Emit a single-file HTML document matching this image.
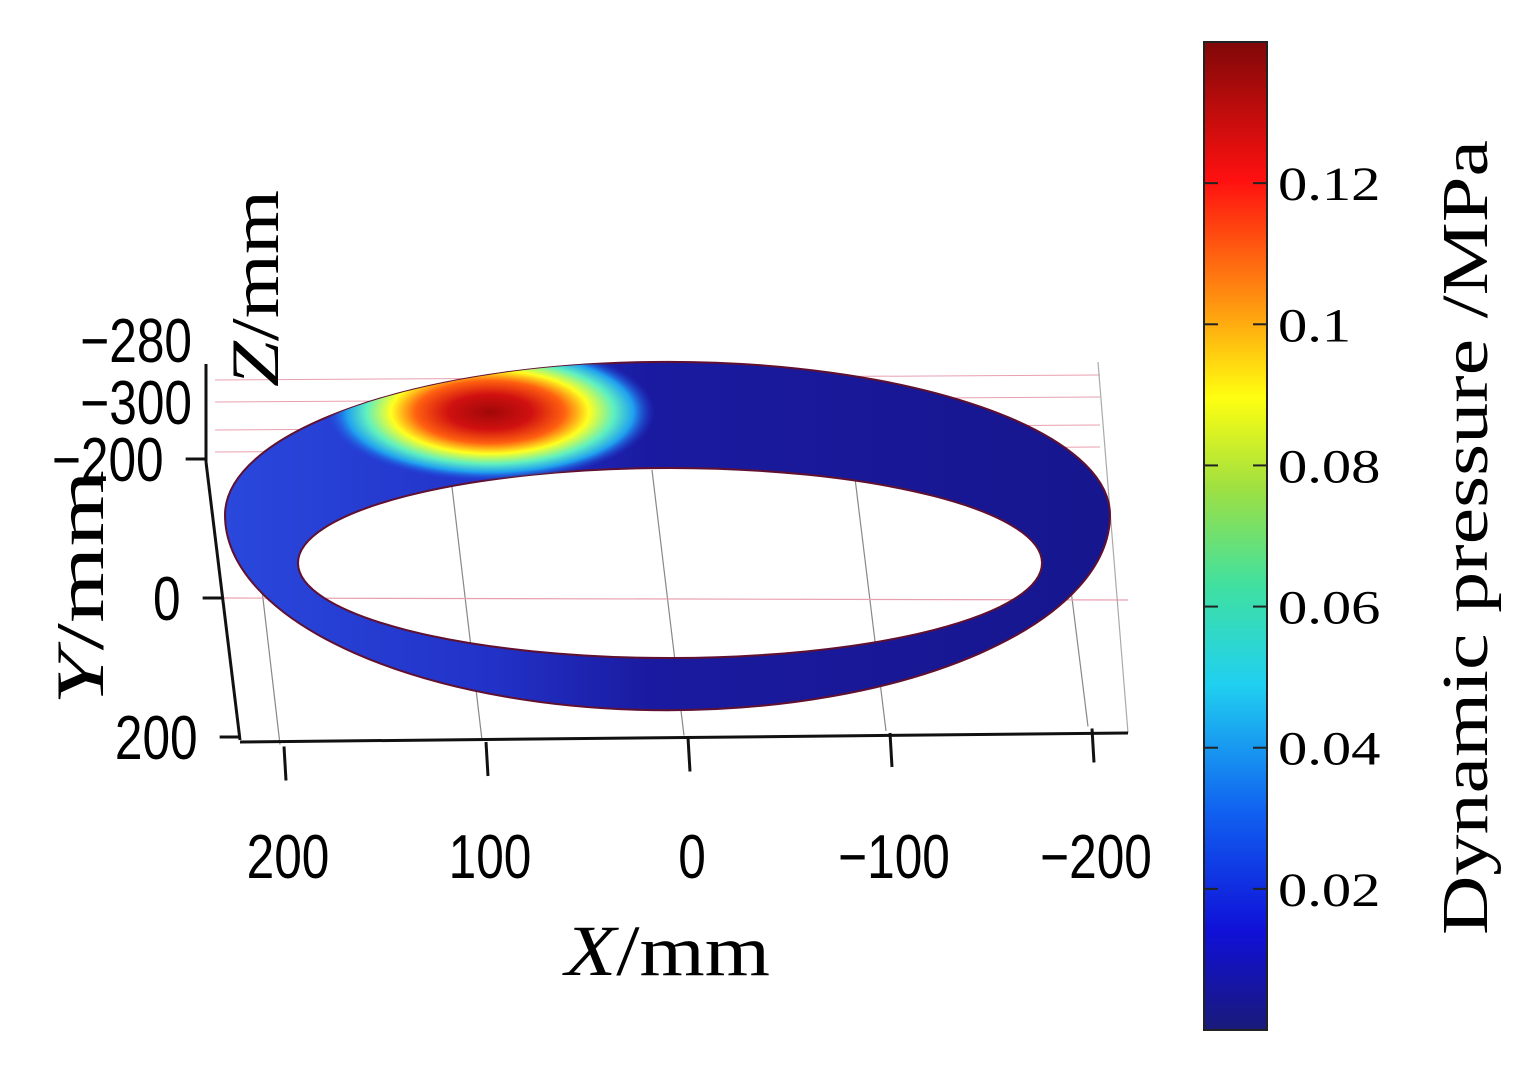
<!DOCTYPE html>
<html><head><meta charset="utf-8"><style>
html,body{margin:0;padding:0;background:#fff;}
svg{display:block;}
.sans{font-family:"Liberation Sans",sans-serif;}
.serif{font-family:"Liberation Serif",serif;}
</style></head><body>
<svg id="chart" width="1531" height="1083" viewBox="0 0 1531 1083" xmlns="http://www.w3.org/2000/svg">
<defs>
<linearGradient id="jet" x1="0" y1="1" x2="0" y2="0">
 <stop offset="0" stop-color="#1a1a7a"/>
 <stop offset="0.1" stop-color="#1010d8"/>
 <stop offset="0.22" stop-color="#1060f0"/>
 <stop offset="0.35" stop-color="#20d0f0"/>
 <stop offset="0.45" stop-color="#40e0a0"/>
 <stop offset="0.55" stop-color="#a0e040"/>
 <stop offset="0.64" stop-color="#ffff10"/>
 <stop offset="0.74" stop-color="#ff9010"/>
 <stop offset="0.86" stop-color="#ff1010"/>
 <stop offset="1" stop-color="#800808"/>
</linearGradient>
<linearGradient id="ringBase" x1="0" y1="0" x2="1" y2="0">
 <stop offset="0" stop-color="#2a48dc"/>
 <stop offset="0.3" stop-color="#2232c8"/>
 <stop offset="0.48" stop-color="#1a1aa0"/>
 <stop offset="1" stop-color="#16168e"/>
</linearGradient>
<radialGradient id="hot" cx="490" cy="412" r="165" gradientUnits="userSpaceOnUse" gradientTransform="translate(490 412) scale(1 0.42) translate(-490 -412)">
 <stop offset="0" stop-color="#a00808"/>
 <stop offset="0.25" stop-color="#d01010"/>
 <stop offset="0.45" stop-color="#ff6010"/>
 <stop offset="0.6" stop-color="#ffff20"/>
 <stop offset="0.75" stop-color="#60f0c0"/>
 <stop offset="0.87" stop-color="#20a0f0"/>
 <stop offset="1" stop-color="#2040e0" stop-opacity="0"/>
</radialGradient>
<clipPath id="ringClip"><path d="M225,515 A442,153 0 0 1 1110,515 A442,195 0 0 1 225,515 Z M298,563 A372,95 0 0 0 1042,563 A372,95 0 0 0 298,563 Z" clip-rule="evenodd"/></clipPath>
</defs>

<g id="grid" stroke-width="1.2" fill="none"></g>

<g>
<path d="M225,515 A442,153 0 0 1 1110,515 A442,195 0 0 1 225,515 Z M298,563 A372,95 0 0 0 1042,563 A372,95 0 0 0 298,563 Z" fill="url(#ringBase)" fill-rule="evenodd" stroke="#601030" stroke-width="2"/>
<g clip-path="url(#ringClip)"><ellipse id="hotspot" cx="490" cy="412" rx="170" ry="72" fill="url(#hot)"/></g>
</g>

<g id="axes" stroke="#111" stroke-width="3" fill="none">
<line x1="206" y1="364" x2="206" y2="462"/>
<line x1="206" y1="462" x2="240" y2="740"/>
<line x1="240" y1="742" x2="1128" y2="733"/>
</g>
<g id="xticks"></g>
<g id="yticks"></g>
<g id="zticks"></g>

<text class="serif" x="565" y="975" font-size="72" textLength="205" lengthAdjust="spacingAndGlyphs"><tspan font-style="italic">X</tspan>/mm</text>
<text class="serif" font-size="68" transform="translate(103 705) rotate(-90)" textLength="235" lengthAdjust="spacingAndGlyphs"><tspan font-style="italic">Y</tspan>/mm</text>
<text class="serif" font-size="68" transform="translate(278 387) rotate(-90)" textLength="197" lengthAdjust="spacingAndGlyphs"><tspan font-style="italic">Z</tspan>/mm</text>

<rect x="1204" y="42" width="63" height="988" fill="url(#jet)" stroke="#222" stroke-width="2"/>
<g id="cbticks"></g>
<text class="serif" font-size="66" transform="translate(1487 935) rotate(-90)" textLength="795" lengthAdjust="spacingAndGlyphs">Dynamic pressure /MPa</text>
</svg>
<script>
const cbTicks = [0.02, 0.04, 0.06, 0.08, 0.1, 0.12];
const cbLabels = ["0.02", "0.04", "0.06", "0.08", "0.1", "0.12"];
const cbMin = 0, cbMax = 0.14;
const xTicks = [200, 100, 0, -100, -200];
const xLabels = ["200", "100", "0", "\u2212100", "\u2212200"];
const yTicks = [-200, 0, 200];
const yLabels = ["\u2212200", "0", "200"];
const zTicks = [-280, -300];
const zLabels = ["\u2212280", "\u2212300"];

const NS = "http://www.w3.org/2000/svg";
function mk(tag, attrs, parent){const e=document.createElementNS(NS,tag);for(const k in attrs)e.setAttribute(k,attrs[k]);parent.appendChild(e);return e;}
const cbY = v => 1030 - (v - cbMin) / (cbMax - cbMin) * 988;
const xX = v => 688 - v * 2.02;
const xBaseY = v => 737.5 - (v * -0.045);
const yY = v => 598 + v * 0.695;
const yX = v => 206 + (yY(v) - 462) * (34 / 278);
const zY = v => 340 + (v + 280) * -3.1;

const cb = document.getElementById('cbticks');
cbTicks.forEach((v, i) => {
  const y = cbY(v);
  const l = mk('line', {x1:1204, x2:1218, y1:y, y2:y, stroke:'#222', 'stroke-width':2}, cb);
  
  
  const l2 = mk('line', {x1:1253, x2:1267, y1:y, y2:y, stroke:'#222', 'stroke-width':2}, cb);
  
  
  const t = mk('text', {x:0, y:0, 'font-size':48, class:'serif', transform:`translate(1278 ${y+17}) scale(1.22 1)`}, cb);
  t.textContent = cbLabels[i];
  
  
});

const g = document.getElementById('grid');
xTicks.forEach(v => {
  const x = xX(v);
  const l = mk('line', {x1:x-4, y1:xBaseY(v)-2, x2:x-36, y2:470, stroke:'#888'}, g);
  
  
});
[380, 402, 430, 452].forEach(y => {
  const l = mk('line', {x1:215, y1:y, x2:1100, y2:y-5, stroke:'#e8a0b0', 'stroke-width':1}, g);
  
  
});
const l0 = mk('line', {x1:222, y1:598, x2:1128, y2:600, stroke:'#e8a0b0', 'stroke-width':1.2}, g);


const rb = mk('line', {x1:1098, y1:362, x2:1128, y2:733, stroke:'#aaa', 'stroke-width':1.2}, g);



const xg = document.getElementById('xticks');
xTicks.forEach((v, i) => {
  const x = xX(v), y = xBaseY(v);
  const l = mk('line', {x1:x, y1:y, x2:x+2, y2:y+34, stroke:'#111', 'stroke-width':3}, xg);
  
  
  const t = mk('text', {x:0, y:0, 'font-size':62, class:'sans', 'text-anchor':'middle', transform:`translate(${x+4} ${878}) scale(0.8 1)`}, xg);
  t.textContent = xLabels[i];
  
  
});

const yg = document.getElementById('yticks');
yTicks.forEach((v, i) => {
  const y = yY(v), x = yX(v);
  const l = mk('line', {x1:x-20, y1:y, x2:x, y2:y, stroke:'#111', 'stroke-width':3}, yg);
  
  
  const t = mk('text', {x:0, y:0, 'font-size':62, class:'sans', 'text-anchor':'end', transform:`translate(${x-42} ${y+22}) scale(0.8 1)`}, yg);
  t.textContent = yLabels[i];
  
  
});

const zg = document.getElementById('zticks');
zTicks.forEach((v, i) => {
  const y = zY(v);
  const t = mk('text', {x:0, y:0, 'font-size':62, class:'sans', 'text-anchor':'end', transform:`translate(${192} ${y+22}) scale(0.8 1)`}, zg);
  t.textContent = zLabels[i];
  
  
});
</script>
</body></html>
